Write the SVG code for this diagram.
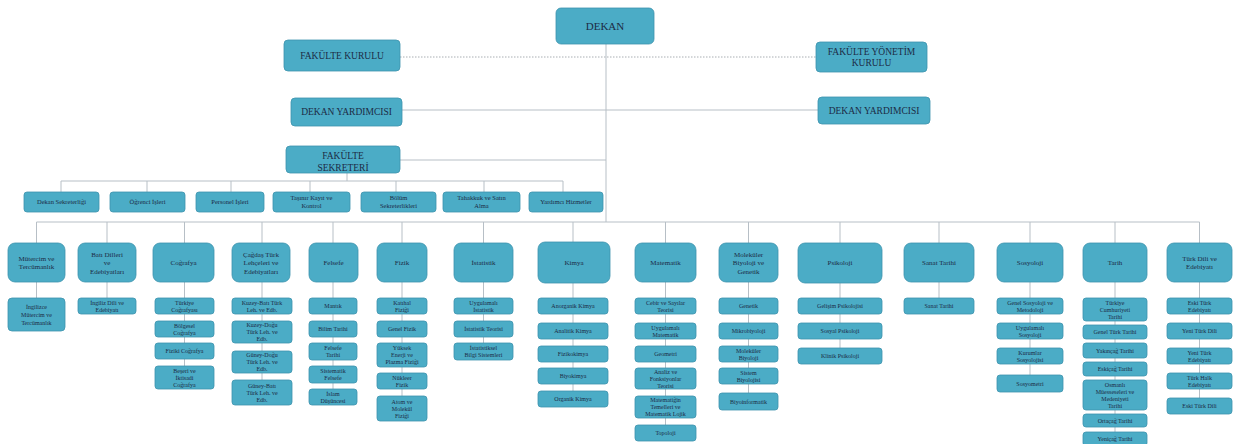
<svg xmlns="http://www.w3.org/2000/svg" width="1240" height="444" viewBox="0 0 1240 444">
<style>
.b{fill:#4bacc6;stroke:#3e93ad;stroke-width:0.8}
text{font-family:"Liberation Serif","Times New Roman",serif;fill:#1c2b45;text-anchor:middle}
.t1{font-size:9.5px}
.t0{font-size:11px}
.ta{font-size:6.5px}
.td{font-size:7px}
.ts{font-size:6px}
.ln{stroke:#b7bfc6;stroke-width:1;fill:none}
.dot{stroke:#a9aeb3;stroke-width:1;stroke-dasharray:1.5 1.5;fill:none}
</style>
<rect width="1240" height="444" fill="#ffffff"/>
<g id="connectors">
<path class="dot" d="M400 57H816"/>
<path class="ln" d="M606 44V222M402 110H818M400 160H606"/>
<path class="ln" d="M347 173V181M61 181H563M61 181V192M147 181V192M231 181V192M310 181V192M396 181V192M484 181V192M563 181V192"/>
<path class="ln" d="M36.5 222H1199.5M36.5 222V243M107 222V243M184.5 222V243M262 222V243M333 222V243M402 222V243M483.5 222V243M573 222V243M665.5 222V243M748.5 222V243M840 222V243M939 222V243M1030 222V243M1115 222V243M1199.5 222V243"/>
<path class="ln" d="M36.5 282V298M107 282V298M184.5 282V366M262 282V380M333 282V389M402 282V396M483.5 282V343M573 282V391M665.5 282V425M748.5 282V393M840 282V348M939 282V298M1030 282V375M1115 282V432M1199.5 282V398"/>
</g>
<g id="dekan"><rect class="b" x="556" y="8" width="98" height="36" rx="5"/><text class="t0" x="605" y="30">DEKAN</text></g>
<g id="fakulte-kurulu"><rect class="b" x="284" y="40" width="116" height="31" rx="4"/><text class="t1" x="342" y="58.7">FAKÜLTE KURULU</text></g>
<g id="fakulte-yonetim-kurulu"><rect class="b" x="816" y="42" width="111" height="30" rx="4"/><text class="t1" x="871.5" y="55">FAKÜLTE YÖNETİM<tspan x="871.5" dy="10.5">KURULU</tspan></text></g>
<g id="dekan-yrd-1"><rect class="b" x="291" y="98" width="111" height="28" rx="4"/><text class="t1" x="346.5" y="115">DEKAN YARDIMCISI</text></g>
<g id="dekan-yrd-2"><rect class="b" x="818" y="97" width="112" height="27" rx="4"/><text class="t1" x="874" y="114">DEKAN YARDIMCISI</text></g>
<g id="fakulte-sekreteri"><rect class="b" x="286" y="146" width="114" height="27" rx="4"/><text class="t1" x="343" y="158.5">FAKÜLTE<tspan x="343" dy="12.5">SEKRETERİ</tspan></text></g>

<g id="adm-dekan-sek"><rect class="b" x="24" y="192" width="75" height="20" rx="3"/><text class="ta" x="61.5" y="204.3">Dekan Sekreterliği</text></g>
<g id="adm-ogrenci"><rect class="b" x="110" y="192" width="75" height="20" rx="3"/><text class="ta" x="147.5" y="204.3">Öğrenci İşleri</text></g>
<g id="adm-personel"><rect class="b" x="196" y="192" width="68" height="20" rx="3"/><text class="ta" x="230" y="204.3">Personel İşleri</text></g>
<g id="adm-tasinir"><rect class="b" x="273" y="192" width="77" height="20" rx="3"/><text class="ta" x="311.5" y="200">Taşınır Kayıt ve<tspan x="311.5" dy="8">Kontrol</tspan></text></g>
<g id="adm-bolum"><rect class="b" x="361" y="192" width="75" height="20" rx="3"/><text class="ta" x="398.5" y="200">Bölüm<tspan x="398.5" dy="8">Sekreterlikleri</tspan></text></g>
<g id="adm-tahakkuk"><rect class="b" x="443" y="192" width="77" height="20" rx="3"/><text class="ta" x="481.5" y="200">Tahakkuk ve Satın<tspan x="481.5" dy="8">Alma</tspan></text></g>
<g id="adm-yardimci"><rect class="b" x="529" y="192" width="74" height="20" rx="3"/><text class="ta" x="566" y="204.3">Yardımcı Hizmetler</text></g>

<g id="d-mutercim"><rect class="b" x="8" y="243" width="57" height="39" rx="7"/><text class="td" x="36.5" y="260.75">Mütercim ve<tspan x="36.5" dy="8.5">Tercümanlık</tspan></text></g>
<g id="s-mutercim-1"><rect class="b" x="8" y="298" width="57" height="33" rx="4"/><text class="ts" x="36.5" y="308.6">İngilizce<tspan x="36.5" dy="8">Mütercim ve</tspan><tspan x="36.5" dy="8">Tercümanlık</tspan></text></g>

<g id="d-bati"><rect class="b" x="78" y="243" width="58" height="39" rx="7"/><text class="td" x="107" y="256.5">Batı Dilleri<tspan x="107" dy="8.5">ve</tspan><tspan x="107" dy="8.5">Edebiyatları</tspan></text></g>
<g id="s-bati-1"><rect class="b" x="78" y="298" width="58" height="16" rx="3"/><text class="ts" x="107" y="304.6">İngiliz Dili ve<tspan x="107" dy="7">Edebiyatı</tspan></text></g>

<g id="d-cografya"><rect class="b" x="153" y="243" width="61" height="39" rx="7"/><text class="td" x="183.5" y="265">Coğrafya</text></g>
<g id="s-cog-1"><rect class="b" x="155" y="298" width="59" height="16" rx="3"/><text class="ts" x="184.5" y="304.6">Türkiye<tspan x="184.5" dy="7">Coğrafyası</tspan></text></g>
<g id="s-cog-2"><rect class="b" x="155" y="321" width="59" height="16" rx="3"/><text class="ts" x="184.5" y="327.6">Bölgesel<tspan x="184.5" dy="7">Coğrafya</tspan></text></g>
<g id="s-cog-3"><rect class="b" x="155" y="343" width="59" height="16" rx="3"/><text class="ts" x="184.5" y="353.1">Fiziki Coğrafya</text></g>
<g id="s-cog-4"><rect class="b" x="155" y="366" width="59" height="23" rx="3"/><text class="ts" x="184.5" y="372.6">Beşeri ve<tspan x="184.5" dy="7">İktisadi</tspan><tspan x="184.5" dy="7">Coğrafya</tspan></text></g>

<g id="d-cagdas"><rect class="b" x="232" y="243" width="58" height="39" rx="7"/><text class="td" x="261" y="256.5">Çağdaş Türk<tspan x="261" dy="8.5">Lehçeleri ve</tspan><tspan x="261" dy="8.5">Edebiyatları</tspan></text></g>
<g id="s-cag-1"><rect class="b" x="232" y="298" width="60" height="16" rx="3"/><text class="ts" x="262" y="304.6">Kuzey-Batı Türk<tspan x="262" dy="7">Leh. ve Edb.</tspan></text></g>
<g id="s-cag-2"><rect class="b" x="232" y="321" width="60" height="22" rx="3"/><text class="ts" x="262" y="327.1">Kuzey-Doğu<tspan x="262" dy="7">Türk Leh. ve</tspan><tspan x="262" dy="7">Edb.</tspan></text></g>
<g id="s-cag-3"><rect class="b" x="232" y="351" width="60" height="22" rx="3"/><text class="ts" x="262" y="357.1">Güney-Doğu<tspan x="262" dy="7">Türk Leh. ve</tspan><tspan x="262" dy="7">Edb.</tspan></text></g>
<g id="s-cag-4"><rect class="b" x="232" y="380" width="60" height="25" rx="3"/><text class="ts" x="262" y="387.6">Güney-Batı<tspan x="262" dy="7">Türk Leh. ve</tspan><tspan x="262" dy="7">Edb.</tspan></text></g>

<g id="d-felsefe"><rect class="b" x="309" y="243" width="49" height="39" rx="7"/><text class="td" x="333.5" y="265">Felsefe</text></g>
<g id="s-fel-1"><rect class="b" x="309" y="298" width="48" height="16" rx="3"/><text class="ts" x="333" y="308.1">Mantık</text></g>
<g id="s-fel-2"><rect class="b" x="309" y="321" width="48" height="16" rx="3"/><text class="ts" x="333" y="331.1">Bilim Tarihi</text></g>
<g id="s-fel-3"><rect class="b" x="309" y="343" width="48" height="17" rx="3"/><text class="ts" x="333" y="350.1">Felsefe<tspan x="333" dy="7">Tarihi</tspan></text></g>
<g id="s-fel-4"><rect class="b" x="309" y="366" width="48" height="17" rx="3"/><text class="ts" x="333" y="373.1">Sistematik<tspan x="333" dy="7">Felsefe</tspan></text></g>
<g id="s-fel-5"><rect class="b" x="309" y="389" width="48" height="16" rx="3"/><text class="ts" x="333" y="395.6">İslam<tspan x="333" dy="7">Düşüncesi</tspan></text></g>

<g id="d-fizik"><rect class="b" x="377" y="243" width="50" height="39" rx="7"/><text class="td" x="402" y="265">Fizik</text></g>
<g id="s-fiz-1"><rect class="b" x="377" y="298" width="50" height="16" rx="3"/><text class="ts" x="402" y="304.6">Katıhal<tspan x="402" dy="7">Fiziği</tspan></text></g>
<g id="s-fiz-2"><rect class="b" x="377" y="321" width="50" height="16" rx="3"/><text class="ts" x="402" y="331.1">Genel Fizik</text></g>
<g id="s-fiz-3"><rect class="b" x="377" y="343" width="50" height="24" rx="3"/><text class="ts" x="402" y="350.1">Yüksek<tspan x="402" dy="7">Enerji ve</tspan><tspan x="402" dy="7">Plazma Fiziği</tspan></text></g>
<g id="s-fiz-4"><rect class="b" x="377" y="373" width="50" height="16" rx="3"/><text class="ts" x="402" y="379.6">Nükleer<tspan x="402" dy="7">Fizik</tspan></text></g>
<g id="s-fiz-5"><rect class="b" x="377" y="396" width="50" height="25" rx="3"/><text class="ts" x="402" y="403.6">Atom ve<tspan x="402" dy="7">Molekül</tspan><tspan x="402" dy="7">Fiziği</tspan></text></g>

<g id="d-istatistik"><rect class="b" x="454" y="243" width="59" height="39" rx="7"/><text class="td" x="483.5" y="265">İstatistik</text></g>
<g id="s-ist-1"><rect class="b" x="454" y="298" width="59" height="16" rx="3"/><text class="ts" x="483.5" y="304.6">Uygulamalı<tspan x="483.5" dy="7">İstatistik</tspan></text></g>
<g id="s-ist-2"><rect class="b" x="454" y="321" width="59" height="16" rx="3"/><text class="ts" x="483.5" y="331.1">İstatistik Teorisi</text></g>
<g id="s-ist-3"><rect class="b" x="454" y="343" width="59" height="17" rx="3"/><text class="ts" x="483.5" y="350.1">İstatistiksel<tspan x="483.5" dy="7">Bilgi Sistemleri</tspan></text></g>

<g id="d-kimya"><rect class="b" x="538" y="242" width="72" height="41" rx="7"/><text class="td" x="574" y="265">Kimya</text></g>
<g id="s-kim-1"><rect class="b" x="538" y="298" width="70" height="16" rx="3"/><text class="ts" x="573" y="308.1">Anorganik Kimya</text></g>
<g id="s-kim-2"><rect class="b" x="538" y="323" width="70" height="16" rx="3"/><text class="ts" x="573" y="333.1">Analitik Kimya</text></g>
<g id="s-kim-3"><rect class="b" x="538" y="346" width="70" height="16" rx="3"/><text class="ts" x="573" y="356.1">Fizikokimya</text></g>
<g id="s-kim-4"><rect class="b" x="538" y="368" width="70" height="16" rx="3"/><text class="ts" x="573" y="378.1">Biyokimya</text></g>
<g id="s-kim-5"><rect class="b" x="538" y="391" width="70" height="16" rx="3"/><text class="ts" x="573" y="401.1">Organik Kimya</text></g>

<g id="d-matematik"><rect class="b" x="635" y="243" width="61" height="39" rx="7"/><text class="td" x="665.5" y="265">Matematik</text></g>
<g id="s-mat-1"><rect class="b" x="635" y="298" width="61" height="16" rx="3"/><text class="ts" x="665.5" y="304.6">Cebir ve Sayılar<tspan x="665.5" dy="7">Teorisi</tspan></text></g>
<g id="s-mat-2"><rect class="b" x="635" y="323" width="61" height="16" rx="3"/><text class="ts" x="665.5" y="329.6">Uygulamalı<tspan x="665.5" dy="7">Matematik</tspan></text></g>
<g id="s-mat-3"><rect class="b" x="635" y="346" width="61" height="16" rx="3"/><text class="ts" x="665.5" y="356.1">Geometri</text></g>
<g id="s-mat-4"><rect class="b" x="635" y="368" width="61" height="21" rx="3"/><text class="ts" x="665.5" y="373.6">Analiz ve<tspan x="665.5" dy="7">Fonksiyonlar</tspan><tspan x="665.5" dy="7">Teorisi</tspan></text></g>
<g id="s-mat-5"><rect class="b" x="635" y="396" width="61" height="22" rx="3"/><text class="ts" x="665.5" y="402.1">Matematiğin<tspan x="665.5" dy="7">Temelleri ve</tspan><tspan x="665.5" dy="7">Matematik Lojik</tspan></text></g>
<g id="s-mat-6"><rect class="b" x="635" y="425" width="61" height="16" rx="3"/><text class="ts" x="665.5" y="435.1">Topoloji</text></g>

<g id="d-mbg"><rect class="b" x="719" y="243" width="59" height="39" rx="7"/><text class="td" x="748.5" y="256.5">Moleküler<tspan x="748.5" dy="8.5">Biyoloji ve</tspan><tspan x="748.5" dy="8.5">Genetik</tspan></text></g>
<g id="s-mbg-1"><rect class="b" x="719" y="298" width="59" height="16" rx="3"/><text class="ts" x="748.5" y="308.1">Genetik</text></g>
<g id="s-mbg-2"><rect class="b" x="719" y="323" width="59" height="16" rx="3"/><text class="ts" x="748.5" y="333.1">Mikrobiyoloji</text></g>
<g id="s-mbg-3"><rect class="b" x="719" y="346" width="59" height="16" rx="3"/><text class="ts" x="748.5" y="352.6">Moleküler<tspan x="748.5" dy="7">Biyoloji</tspan></text></g>
<g id="s-mbg-4"><rect class="b" x="719" y="368" width="59" height="16" rx="3"/><text class="ts" x="748.5" y="374.6">Sistem<tspan x="748.5" dy="7">Biyolojisi</tspan></text></g>
<g id="s-mbg-5"><rect class="b" x="719" y="393" width="59" height="17" rx="3"/><text class="ts" x="748.5" y="403.6">Biyoinformatik</text></g>

<g id="d-psikoloji"><rect class="b" x="798" y="243" width="84" height="40" rx="7"/><text class="td" x="840" y="265">Psikoloji</text></g>
<g id="s-psi-1"><rect class="b" x="798" y="298" width="84" height="16" rx="3"/><text class="ts" x="840" y="308.1">Gelişim Psikolojisi</text></g>
<g id="s-psi-2"><rect class="b" x="798" y="323" width="84" height="16" rx="3"/><text class="ts" x="840" y="333.1">Sosyal Psikoloji</text></g>
<g id="s-psi-3"><rect class="b" x="798" y="348" width="84" height="16" rx="3"/><text class="ts" x="840" y="358.1">Klinik Psikoloji</text></g>

<g id="d-sanat"><rect class="b" x="904" y="243" width="70" height="39" rx="7"/><text class="td" x="939" y="265">Sanat Tarihi</text></g>
<g id="s-san-1"><rect class="b" x="904" y="298" width="70" height="16" rx="3"/><text class="ts" x="939" y="308.1">Sanat Tarihi</text></g>

<g id="d-sosyoloji"><rect class="b" x="997" y="243" width="66" height="39" rx="7"/><text class="td" x="1030" y="265">Sosyoloji</text></g>
<g id="s-sos-1"><rect class="b" x="997" y="298" width="66" height="16" rx="3"/><text class="ts" x="1030" y="304.6">Genel Sosyoloji ve<tspan x="1030" dy="7">Metodoloji</tspan></text></g>
<g id="s-sos-2"><rect class="b" x="997" y="323" width="66" height="16" rx="3"/><text class="ts" x="1030" y="329.6">Uygulamalı<tspan x="1030" dy="7">Sosyoloji</tspan></text></g>
<g id="s-sos-3"><rect class="b" x="997" y="348" width="66" height="16" rx="3"/><text class="ts" x="1030" y="354.6">Kurumlar<tspan x="1030" dy="7">Sosyolojisi</tspan></text></g>
<g id="s-sos-4"><rect class="b" x="997" y="375" width="66" height="17" rx="3"/><text class="ts" x="1030" y="385.6">Sosyometri</text></g>

<g id="d-tarih"><rect class="b" x="1083" y="243" width="64" height="39" rx="7"/><text class="td" x="1115" y="265">Tarih</text></g>
<g id="s-tar-1"><rect class="b" x="1083" y="298" width="64" height="23" rx="3"/><text class="ts" x="1115" y="304.6">Türkiye<tspan x="1115" dy="7">Cumhuriyeti</tspan><tspan x="1115" dy="7">Tarihi</tspan></text></g>
<g id="s-tar-2"><rect class="b" x="1083" y="325" width="64" height="14" rx="3"/><text class="ts" x="1115" y="334.1">Genel Türk Tarihi</text></g>
<g id="s-tar-3"><rect class="b" x="1083" y="343" width="64" height="15" rx="3"/><text class="ts" x="1115" y="352.6">Yakınçağ Tarihi</text></g>
<g id="s-tar-4"><rect class="b" x="1083" y="362" width="64" height="14" rx="3"/><text class="ts" x="1115" y="371.1">Eskiçağ Tarihi</text></g>
<g id="s-tar-5"><rect class="b" x="1083" y="380" width="64" height="30" rx="3"/><text class="ts" x="1115" y="386.6">Osmanlı<tspan x="1115" dy="7">Müesseseleri ve</tspan><tspan x="1115" dy="7">Medeniyeti</tspan><tspan x="1115" dy="7">Tarihi</tspan></text></g>
<g id="s-tar-6"><rect class="b" x="1083" y="414" width="64" height="13" rx="3"/><text class="ts" x="1115" y="422.6">Ortaçağ Tarihi</text></g>
<g id="s-tar-7"><rect class="b" x="1083" y="432" width="64" height="14" rx="3"/><text class="ts" x="1115" y="441.1">Yeniçağ Tarihi</text></g>

<g id="d-tde"><rect class="b" x="1167" y="243" width="65" height="39" rx="7"/><text class="td" x="1199.5" y="260.75">Türk Dili ve<tspan x="1199.5" dy="8.5">Edebiyatı</tspan></text></g>
<g id="s-tde-1"><rect class="b" x="1167" y="298" width="65" height="16" rx="3"/><text class="ts" x="1199.5" y="304.6">Eski Türk<tspan x="1199.5" dy="7">Edebiyatı</tspan></text></g>
<g id="s-tde-2"><rect class="b" x="1167" y="323" width="65" height="16" rx="3"/><text class="ts" x="1199.5" y="333.1">Yeni Türk Dili</text></g>
<g id="s-tde-3"><rect class="b" x="1167" y="348" width="65" height="16" rx="3"/><text class="ts" x="1199.5" y="354.6">Yeni Türk<tspan x="1199.5" dy="7">Edebiyatı</tspan></text></g>
<g id="s-tde-4"><rect class="b" x="1167" y="373" width="65" height="16" rx="3"/><text class="ts" x="1199.5" y="379.6">Türk Halk<tspan x="1199.5" dy="7">Edebiyatı</tspan></text></g>
<g id="s-tde-5"><rect class="b" x="1167" y="398" width="65" height="16" rx="3"/><text class="ts" x="1199.5" y="408.1">Eski Türk Dili</text></g>
</svg>
